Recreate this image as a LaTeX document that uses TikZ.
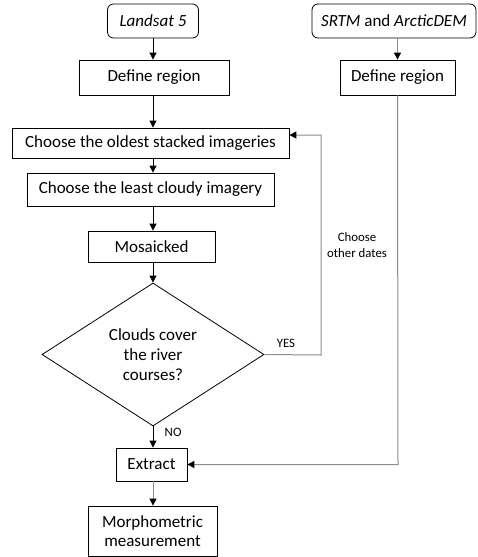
\documentclass[tikz,border=0pt]{standalone}
\usepackage{fontspec}
\setmainfont{Carlito}
\usetikzlibrary{shapes.geometric,arrows.meta}

\tikzset{
  box/.style={draw, line width=0.8pt, minimum height=33pt, align=center, font=\fontsize{17}{19}\selectfont},
  srcbox/.style={box, rounded corners=6pt, minimum height=34pt},
  decision/.style={draw, line width=0.8pt, diamond, aspect=1.55, inner sep=0pt, minimum width=222pt, minimum height=143pt, align=center, font=\fontsize{17}{20}\selectfont},
  flow/.style={line width=0.8pt, -{Triangle[length=7pt,width=7pt,color=black]}},
  greyflow/.style={flow, draw=black!45, line width=1pt},
  small/.style={font=\fontsize{12.8}{16}\selectfont}
}

\begin{document}
\begin{tikzpicture}[x=1pt,y=-1pt]
\useasboundingbox (0,0) rectangle (477,557);

% sources
\node[srcbox, minimum width=91pt] (landsat) at (153,21) {\itshape Landsat 5};
\node[srcbox, minimum width=164pt] (srtm) at (394,21) {\textit{SRTM} and \textit{ArcticDEM}};

% left column
\node[box, minimum width=150pt, minimum height=35pt] (defA) at (154,77.5) {Define region};
\node[box, minimum width=277pt, minimum height=30pt] (oldest) at (150.5,143) {Choose the oldest stacked imageries};
\node[box, minimum width=247pt] (cloudy) at (150.5,189.5) {Choose the least cloudy imagery};
\node[box, minimum width=127pt, minimum height=31pt] (mosaic) at (151.5,246.5) {Mosaicked};
\node[decision] (clouds) at (153,354.5) {Clouds cover\\the river\\courses?};
\node[box, minimum width=71pt] (extract) at (151.5,464.5) {Extract};
\node[box, minimum width=129pt, minimum height=50pt] (morph) at (152.5,531) {Morphometric\\measurement};

% right column
\node[box, minimum width=115pt, minimum height=35pt] (defB) at (397.5,77.5) {Define region};

% corners of the two long paths
\coordinate (loopB) at (321,355);
\coordinate (loopT) at (321,135);
\coordinate (rightC) at (398,464.5);

% main flow
\draw[flow] (landsat.south) -- (defA.north -| landsat);
\draw[flow] (defA.south -| landsat) -- (oldest.north -| landsat);
\draw[flow] (oldest.south -| landsat) -- (cloudy.north -| landsat);
\draw[flow] (cloudy.south -| landsat) -- (mosaic.north -| landsat);
\draw[flow] (mosaic.south -| landsat) -- (clouds.north);
\draw[flow] (clouds.south) -- (extract.north -| clouds) node[pos=0.3, right=8pt, small] {NO};
\draw[greyflow] (extract.south -| clouds) -- (morph.north -| clouds);

% loop back when clouded
\draw[greyflow] (clouds.east) -- (loopB) -- (loopT) -- (oldest.east |- loopT);
\node[small] (yes) at (286,343) {YES};
\node[small, align=center] (other) at (357,245) {Choose\\other dates};

% DEM branch
\draw[greyflow] (srtm.south -| defB) -- (defB.north);
\draw[greyflow] (defB.south) -- (rightC) -- (extract.east);

\end{tikzpicture}
\end{document}
